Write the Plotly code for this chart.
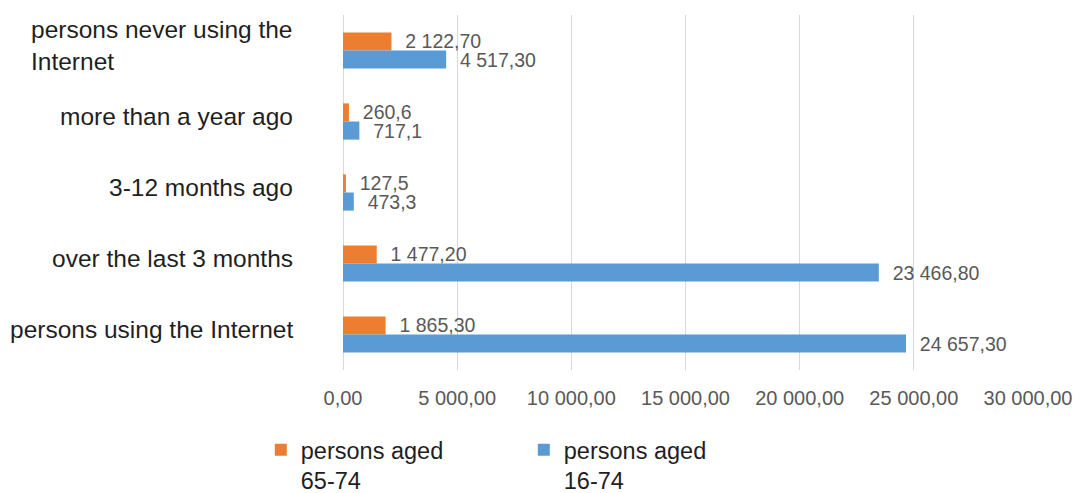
import plotly.graph_objects as go

categories = [
    "persons never using the<br>Internet",
    "more than a year ago",
    "3-12 months ago",
    "over the last 3 months",
    "persons using the Internet",
]
aged_65_74 = [2122.70, 260.6, 127.5, 1477.20, 1865.30]
aged_65_74_labels = ["2 122,70", "260,6", "127,5", "1 477,20", "1 865,30"]
aged_16_74 = [4517.30, 717.1, 473.3, 23466.80, 24657.30]
aged_16_74_labels = ["4 517,30", "717,1", "473,3", "23 466,80", "24 657,30"]
tick_values = [0, 5000, 10000, 15000, 20000, 25000, 30000]
tick_labels = ["0,00", "5 000,00", "10 000,00", "15 000,00", "20 000,00", "25 000,00", "30 000,00"]

ORANGE = "#ED7D31"
BLUE = "#5B9BD5"
FONT = "Liberation Sans, Arial, sans-serif"
LABEL_GRAY = "#595959"

fig = go.Figure()
fig.add_trace(go.Bar(
    y=categories, x=aged_65_74, orientation="h", name="persons aged<br>65-74",
    marker=dict(color=ORANGE, line=dict(width=0)),
    text=aged_65_74_labels, texttemplate="\u00a0\u00a0%{text}",
    textposition="outside", constraintext="none", cliponaxis=False,
    textfont=dict(family=FONT, size=19.5, color=LABEL_GRAY),
))
fig.add_trace(go.Bar(
    y=categories, x=aged_16_74, orientation="h", name="persons aged<br>16-74",
    marker=dict(color=BLUE, line=dict(width=0)),
    text=aged_16_74_labels, texttemplate="\u00a0\u00a0%{text}",
    textposition="outside", constraintext="none", cliponaxis=False,
    textfont=dict(family=FONT, size=19.5, color=LABEL_GRAY),
))

for cat in categories:
    fig.add_annotation(
        x=0, xref="paper", y=cat, yref="y", text=cat, showarrow=False,
        xanchor="right", yanchor="middle", align="left", xshift=-48, yshift=5,
        font=dict(family=FONT, size=24.5, color="#1f1f1f"),
    )

fig.update_layout(
    width=1077, height=493,
    margin=dict(l=343, r=49, t=15, b=123, autoexpand=False),
    paper_bgcolor="white", plot_bgcolor="white",
    barmode="group", bargap=0.49, bargroupgap=0,
    showlegend=True,
    legend=dict(
        orientation="h", x=-0.12, xanchor="left", y=-0.163, yanchor="top",
        font=dict(family=FONT, size=23.5, color="#1f1f1f"),
        valign="top", traceorder="normal",
        entrywidth=218, entrywidthmode="pixels",
        bgcolor="rgba(0,0,0,0)",
    ),
    xaxis=dict(
        range=[0, 30000], tickvals=tick_values, ticktext=tick_labels,
        showgrid=True, gridcolor="#d9d9d9", gridwidth=1,
        zeroline=True, zerolinecolor="#d9d9d9", zerolinewidth=1,
        showline=False, ticks="", ticklabelstandoff=14,
        tickfont=dict(family=FONT, size=20, color=LABEL_GRAY),
        fixedrange=True, automargin=False,
    ),
    yaxis=dict(
        autorange="reversed", showticklabels=False, showgrid=False,
        showline=False, ticks="", zeroline=False, fixedrange=True,
        automargin=False,
    ),
)

fig.write_html("out.html")
